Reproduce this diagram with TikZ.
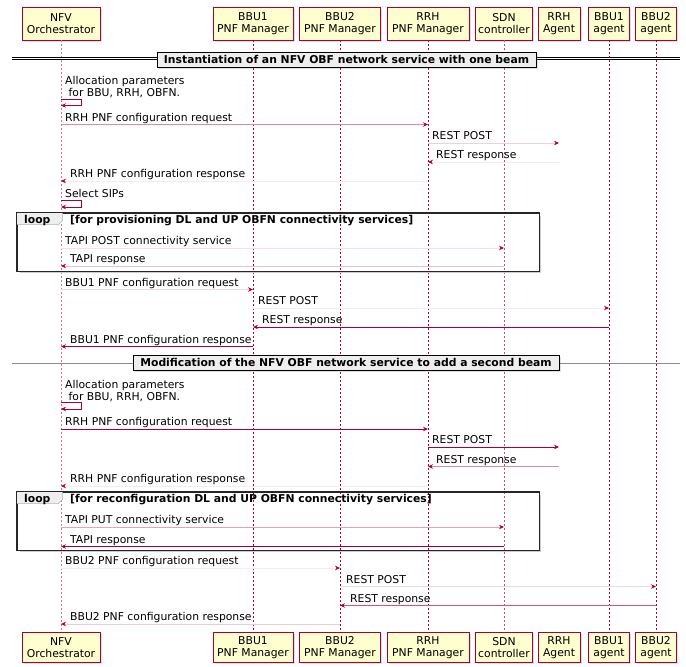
\documentclass[tikz,border=0pt]{standalone}
\usepackage{fontspec}
\setmainfont{DejaVu Sans}
\usetikzlibrary{arrows.meta,shadows}
\definecolor{umlred}{HTML}{A80036}
\definecolor{umlfill}{HTML}{FEFECE}
\definecolor{divfill}{HTML}{EEEEEE}

\tikzset{
  boxshadow/.style={drop shadow={shadow xshift=1.5pt,shadow yshift=-1.5pt,opacity=0.25}},
  actor/.style={draw=umlred, fill=umlfill, line width=0.8pt, align=center, boxshadow},
  lifeline/.style={draw=umlred, line width=0.9pt, dash pattern=on 2pt off 2pt},
  msg/.style={draw=umlred!#1, line width=0.8pt, -{Stealth[length=5pt,width=4.5pt,color=umlred]}},
  msg/.default=100,
  lbl/.style={anchor=base west},
  divlabel/.style={draw=black, fill=divfill, line width=0.8pt, font=\fontsize{10.8}{12}\selectfont\bfseries, minimum height=15pt, boxshadow},
  loopframe/.style={draw=black!85, line width=1pt},
  frameshadow/.style={draw=black!20, line width=1.5pt},
  looptab/.style={fill=divfill, draw=black!30, line width=0.5pt},
  guard/.style={anchor=base west, font=\fontsize{10.8}{12}\selectfont\bfseries}
}

\begin{document}
\begin{tikzpicture}[x=1pt,y=-1pt,
  every node/.style={font=\fontsize{10.8}{12}\selectfont, inner sep=0pt}]
\useasboundingbox (0,0) rectangle (686,667);

% participants, top row
\node[actor, minimum width=78pt, minimum height=33pt] (nfvT)   at (61,23.5)  {NFV\\Orchestrator};
\node[actor, minimum width=80pt, minimum height=33pt] (bbu1pT) at (253,23.5) {BBU1\\PNF Manager};
\node[actor, minimum width=81pt, minimum height=33pt] (bbu2pT) at (340,23.5) {BBU2\\PNF Manager};
\node[actor, minimum width=82pt, minimum height=33pt] (rrhpT)  at (428,23.5) {RRH\\PNF Manager};
\node[actor, minimum width=57pt, minimum height=33pt] (sdnT)   at (504,23.5) {SDN\\controller};
\node[actor, minimum width=42pt, minimum height=33pt] (rrhaT)  at (559,23.5) {RRH\\Agent};
\node[actor, minimum width=41pt, minimum height=33pt] (bbu1aT) at (609,23.5) {BBU1\\agent};
\node[actor, minimum width=41pt, minimum height=33pt] (bbu2aT) at (656,23.5) {BBU2\\agent};

% participants, bottom row
\node[actor, minimum width=78pt, minimum height=30pt] (nfvB)   at (61,647.5)  {NFV\\Orchestrator};
\node[actor, minimum width=80pt, minimum height=30pt] (bbu1pB) at (253,647.5) {BBU1\\PNF Manager};
\node[actor, minimum width=81pt, minimum height=30pt] (bbu2pB) at (340,647.5) {BBU2\\PNF Manager};
\node[actor, minimum width=82pt, minimum height=30pt] (rrhpB)  at (428,647.5) {RRH\\PNF Manager};
\node[actor, minimum width=57pt, minimum height=30pt] (sdnB)   at (504,647.5) {SDN\\controller};
\node[actor, minimum width=42pt, minimum height=30pt] (rrhaB)  at (559,647.5) {RRH\\Agent};
\node[actor, minimum width=41pt, minimum height=30pt] (bbu1aB) at (609,647.5) {BBU1\\agent};
\node[actor, minimum width=41pt, minimum height=30pt] (bbu2aB) at (656,647.5) {BBU2\\agent};

% lifelines
\draw[lifeline, draw=umlred!55] (nfvT.south) -- (nfvB.north);
\draw[lifeline] (bbu1pT.south) -- (bbu1pB.north);
\draw[lifeline] (bbu2pT.south) -- (bbu2pB.north);
\draw[lifeline] (rrhpT.south) -- (rrhpB.north);
\draw[lifeline, draw=umlred!70] (sdnT.south) -- (sdnB.north);
\draw[lifeline] (bbu1aT.south) -- (bbu1aB.north);
\draw[lifeline] (bbu2aT.south) -- (bbu2aB.north);

% ---- first divider
\draw[double=white, double distance=1.6pt, line width=0.9pt] (12,58.5) coordinate (d1l) -- (680,58.5) coordinate (d1r);
\node[divlabel, minimum width=379pt] (div1) at (346.5,59.5) {Instantiation of an NFV OBF network service with one beam};

% self message: allocation parameters
\node[anchor=south west, align=left] (alloc1) at (65,97.5) {Allocation parameters\\\ for BBU, RRH, OBFN.};
\draw[msg] (nfvT |- 0,99) -- ++(20,0) -- ++(0,6.5) -- (nfvT |- 0,105.5);

\draw[msg=45] (nfvT |- 0,124.5) -- (rrhpT |- 0,124.5);
\node[lbl] (m1) at (65,121) {RRH PNF configuration request};

\draw[msg=18] (rrhpT |- 0,143) -- (rrhaT |- 0,143);
\node[lbl] (m2) at (432,139.5) {REST POST};

\draw[msg=8] (rrhaT |- 0,162) -- (rrhpT |- 0,162);
\node[lbl] (m3) at (436,158.5) {REST response};

\draw[msg=8] (rrhpT |- 0,181) -- (nfvT |- 0,181);
\node[lbl] (m4) at (70,177.5) {RRH PNF configuration response};

\node[lbl] (sips) at (65,197) {Select SIPs};
\draw[msg] (nfvT |- 0,200.5) -- ++(20,0) -- ++(0,6.5) -- (nfvT |- 0,207);

% ---- first loop
\draw[frameshadow] (540.5,216) -- (540.5,272.5) -- (20,272.5);
\node[loopframe, minimum width=522pt, minimum height=58pt] (loop1) at (278,242) {};
\path[looptab] (loop1.north west) -- ++(46,0) -- ++(0,8) -- ++(-4,4) -- ++(-42,0) -- cycle;
\draw[loopframe] (loop1.north west) rectangle (loop1.south east);
\node[guard] (loop1t) at (24,223.5) {loop};
\node[guard] (loop1g) at (70,223.5) {[for provisioning DL and UP OBFN connectivity services]};

\draw[msg=12] (nfvT |- 0,248) -- (sdnT |- 0,248);
\node[lbl] (m5) at (65,244.5) {TAPI POST connectivity service};

\draw[msg=25] (sdnT |- 0,266) -- (nfvT |- 0,266);
\node[lbl] (m6) at (70,262.5) {TAPI response};

\draw[msg=15] (nfvT |- 0,289.5) -- (bbu1pT |- 0,289.5);
\node[lbl] (m7) at (65,286) {BBU1 PNF configuration request};

\draw[msg=8] (bbu1pT |- 0,308) -- (bbu1aT |- 0,308);
\node[lbl] (m8) at (258,304.5) {REST POST};

\draw[msg] (bbu1aT |- 0,327) -- (bbu1pT |- 0,327);
\node[lbl] (m9) at (262,323.5) {REST response};

\draw[msg] (bbu1pT |- 0,346.5) -- (nfvT |- 0,346.5);
\node[lbl] (m10) at (70,343) {BBU1 PNF configuration response};

% ---- second divider
\draw[draw=black!45, line width=0.8pt] (12,363) coordinate (d2l) -- (680,363) coordinate (d2r);
\node[divlabel, minimum width=426pt] (div2) at (346,362.5) {Modification of the NFV OBF network service to add a second beam};

\node[anchor=south west, align=left] (alloc2) at (65,401.5) {Allocation parameters\\\ for BBU, RRH, OBFN.};
\draw[msg] (nfvT |- 0,402.5) -- ++(20,0) -- ++(0,6.5) -- (nfvT |- 0,409);

\draw[msg] (nfvT |- 0,429) -- (rrhpT |- 0,429);
\node[lbl] (m11) at (65,425.5) {RRH PNF configuration request};

\draw[msg] (rrhpT |- 0,447) -- (rrhaT |- 0,447);
\node[lbl] (m12) at (432,443.5) {REST POST};

\draw[msg=45] (rrhaT |- 0,466.5) -- (rrhpT |- 0,466.5);
\node[lbl] (m13) at (436,463) {REST response};

\draw[msg=8] (rrhpT |- 0,486) -- (nfvT |- 0,486);
\node[lbl] (m14) at (70,482.5) {RRH PNF configuration response};

% ---- second loop
\draw[frameshadow] (540.5,495) -- (540.5,551.5) -- (20,551.5);
\node[loopframe, minimum width=522pt, minimum height=58pt] (loop2) at (278,521) {};
\path[looptab] (loop2.north west) -- ++(46,0) -- ++(0,8) -- ++(-4,4) -- ++(-42,0) -- cycle;
\draw[loopframe] (loop2.north west) rectangle (loop2.south east);
\node[guard] (loop2t) at (24,502.5) {loop};
\node[guard] (loop2g) at (70,502.5) {[for reconfiguration DL and UP OBFN connectivity services]};

\draw[msg=35] (nfvT |- 0,527) -- (sdnT |- 0,527);
\node[lbl] (m15) at (65,523.5) {TAPI PUT connectivity service};

\draw[msg] (sdnT |- 0,546.5) -- (nfvT |- 0,546.5);
\node[lbl] (m16) at (70,543) {TAPI response};

\draw[msg=8] (nfvT |- 0,568) -- (bbu2pT |- 0,568);
\node[lbl] (m17) at (65,564.5) {BBU2 PNF configuration request};

\draw[msg=15] (bbu2pT |- 0,586.5) -- (bbu2aT |- 0,586.5);
\node[lbl] (m18) at (346,583) {REST POST};

\draw[msg=65] (bbu2aT |- 0,605.5) -- (bbu2pT |- 0,605.5);
\node[lbl] (m19) at (350,602) {REST response};

\draw[msg=20] (bbu2pT |- 0,624) -- (nfvT |- 0,624);
\node[lbl] (m20) at (70,620.5) {BBU2 PNF configuration response};
\end{tikzpicture}
\end{document}
